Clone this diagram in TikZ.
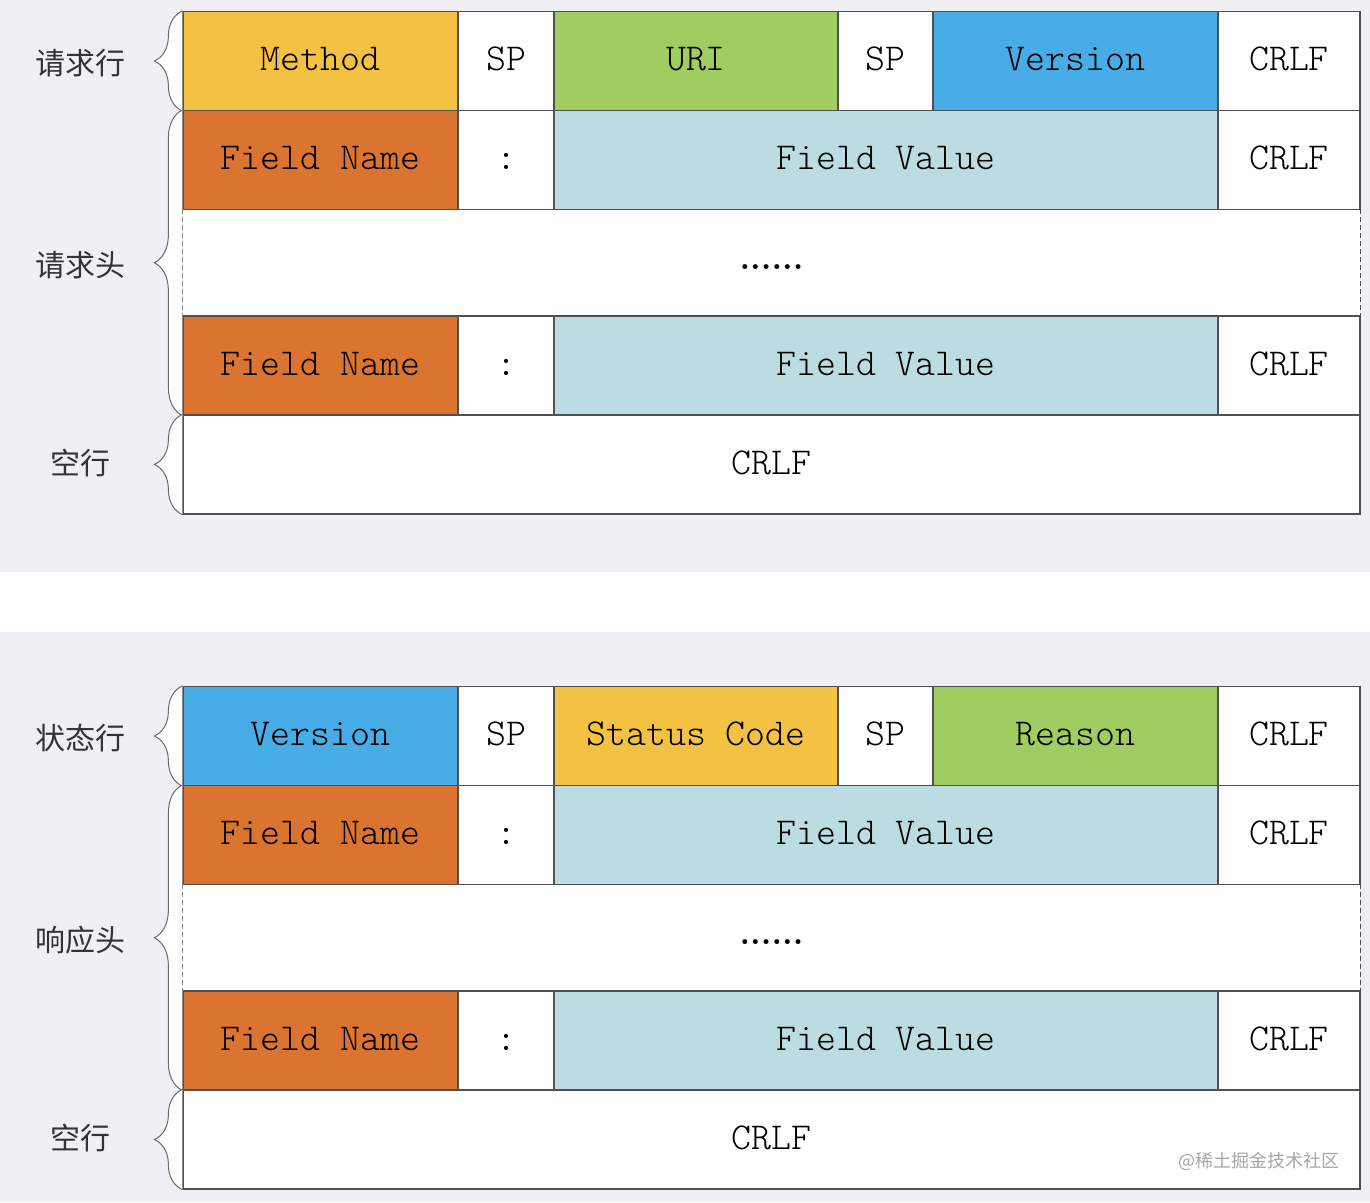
\documentclass[tikz,border=0pt]{standalone}
\usepackage{fontspec}
\setmonofont{Latin Modern Mono Light}
\newfontfamily\cjk{Noto Sans CJK SC}
\usetikzlibrary{decorations.pathreplacing}

\definecolor{panelgray}{HTML}{F0EFF4}
\definecolor{linegray}{HTML}{505050}
\definecolor{bracegray}{HTML}{6A6A6A}
\definecolor{labelgray}{HTML}{333333}
\definecolor{ylw}{HTML}{F4C243}
\definecolor{grn}{HTML}{9FCD62}
\definecolor{blu}{HTML}{48ACE6}
\definecolor{orng}{HTML}{DC7431}
\definecolor{lblue}{HTML}{BCDCE3}

\begin{document}
\begin{tikzpicture}
  [x=1pt,y=-1pt,
   cell/.style={rectangle,draw=linegray,line width=1.2pt,inner sep=0pt,
     minimum height=99pt,text height=24pt,text depth=5pt,
     font=\ttfamily\fontsize{38}{40}\selectfont},
   gap/.style={rectangle,fill=white,inner sep=0pt,minimum width=1177pt,
     minimum height=106.5pt,text height=14pt,text depth=0pt,
     font=\bfseries\fontsize{34}{36}\selectfont},
   lbl/.style={text=labelgray,font=\cjk\fontsize{30}{32}\selectfont},
   curly/.style={decorate,decoration={brace,amplitude=28pt},
     draw=bracegray,fill=white,line width=1pt}]

  % panels
  \useasboundingbox (0,0) rectangle (1370,1202);
  \fill[panelgray] (0,0) rectangle (1370,572);
  \fill[panelgray] (0,632) rectangle (1370,1202);

  % request line
  \node[cell,fill=ylw,minimum width=275pt]   (method)   at (320.5,61)  {Method};
  \node[cell,fill=white,minimum width=96pt]  (sp1)      at (506,61)    {SP};
  \node[cell,fill=grn,minimum width=284pt]   (uri)      at (696,61)    {URI};
  \node[cell,fill=white,minimum width=95pt]  (sp2)      at (885.5,61)  {SP};
  \node[cell,fill=blu,minimum width=285pt]   (version1) at (1075.5,61) {Version};
  \node[cell,fill=white,minimum width=142pt] (crlf1)    at (1289,61)   {CRLF};

  % status line
  \node[cell,fill=blu,minimum width=275pt]   (version2) at (320.5,736)  {Version};
  \node[cell,fill=white,minimum width=96pt]  (sp3)      at (506,736)    {SP};
  \node[cell,fill=ylw,minimum width=284pt]   (status)   at (696,736)    {Status Code};
  \node[cell,fill=white,minimum width=95pt]  (sp4)      at (885.5,736)  {SP};
  \node[cell,fill=grn,minimum width=285pt]   (reason)   at (1075.5,736) {Reason};
  \node[cell,fill=white,minimum width=142pt] (crlf3)    at (1289,736)   {CRLF};

  % header fields and empty line
  \foreach \p/\o/\h in {req/0/请求头,res/675/响应头} {
    \node[gap] (gap-\p) at (771.5,{262.75+\o}) {......};
    \draw[linegray,line width=1.2pt,dash pattern=on 5pt off 3pt]
      (gap-\p.north west) -- (gap-\p.south west);
    \draw[linegray,line width=1.2pt,dash pattern=on 5pt off 3pt]
      (gap-\p.north east) -- (gap-\p.south east);

    \node[cell,fill=orng,minimum width=275pt]  (fn1-\p)   at (320.5,{160+\o}) {Field Name};
    \node[cell,fill=white,minimum width=96pt]  (col1-\p)  at (506,{160+\o})   {:};
    \node[cell,fill=lblue,minimum width=664pt] (fv1-\p)   at (886,{160+\o})   {Field Value};
    \node[cell,fill=white,minimum width=142pt] (crlf2-\p) at (1289,{160+\o})  {CRLF};

    \node[cell,fill=orng,minimum width=275pt]  (fn2-\p)   at (320.5,{365.5+\o}) {Field Name};
    \node[cell,fill=white,minimum width=96pt]  (col2-\p)  at (506,{365.5+\o})   {:};
    \node[cell,fill=lblue,minimum width=664pt] (fv2-\p)   at (886,{365.5+\o})   {Field Value};
    \node[cell,fill=white,minimum width=142pt] (crlf4-\p) at (1289,{365.5+\o})  {CRLF};

    \node[cell,fill=white,minimum width=1177pt] (empty-\p) at (771.5,{464.5+\o}) {CRLF};

    \draw[curly] (fn2-\p.south west) -- (fn1-\p.north west);
    \draw[curly] (empty-\p.south west) -- (empty-\p.north west);
    \node[lbl] (head-\p)  at (80,{265+\o}) {\h};
    \node[lbl] (blank-\p) at (80,{463+\o}) {空行};
  }

  \draw[curly] (method.south west) -- (method.north west);
  \draw[curly] (version2.south west) -- (version2.north west);
  \node[lbl] (reqline) at (80,63)  {请求行};
  \node[lbl] (resline) at (80,738) {状态行};

  \node[text=gray!70,font=\cjk\fontsize{18}{20}\selectfont] (mark) at (1259,1161) {@稀土掘金技术社区};

\end{tikzpicture}
\end{document}
